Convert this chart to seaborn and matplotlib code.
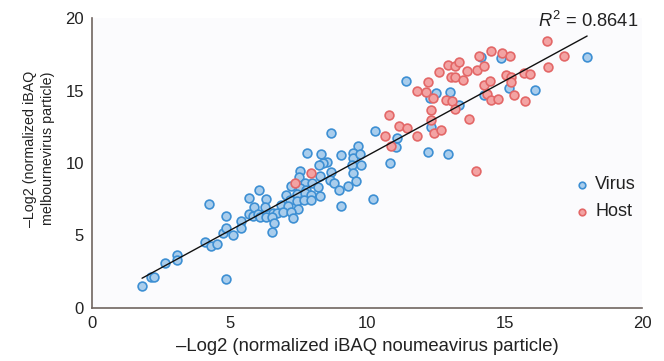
import numpy as np
import pandas as pd
import matplotlib
matplotlib.use("Agg")
import matplotlib.pyplot as plt
import seaborn as sns

# values (noumeavirus x, melbournevirus y)
virus_x = [1.79, 2.12, 2.24, 2.64, 3.08, 3.08, 4.25, 4.09, 4.31, 4.55,
           4.85, 4.76, 4.85, 4.88, 5.12, 5.40, 5.40, 5.69, 5.69, 5.88,
           5.85, 6.01, 6.05, 8.70, 9.67, 7.81, 8.33, 9.04, 9.48, 9.48,
           9.75, 8.55, 8.39, 8.25, 9.76, 9.43, 7.55, 8.70, 9.48, 7.52,
           8.27, 8.64, 9.61, 7.22, 7.73, 8.01, 8.79, 9.30, 7.55, 7.79,
           8.21, 8.96, 7.06, 7.43, 7.73, 7.97, 8.27, 6.33, 7.18, 7.43,
           7.70, 7.95, 6.85, 7.12, 6.27, 9.06, 7.48, 6.57, 6.73, 6.94,
           7.24, 6.09, 6.33, 6.54, 7.30, 6.61, 6.54, 10.21, 10.27, 10.82,
           11.10, 11.06, 11.40, 12.21, 12.94, 12.33, 12.49, 12.27, 13.00, 13.33,
           14.15, 14.25, 14.88, 15.15, 16.12, 17.99]
virus_y = [1.52, 2.16, 2.16, 3.08, 3.66, 3.31, 7.15, 4.53, 4.30, 4.39,
           1.98, 5.15, 5.54, 6.34, 5.03, 6.00, 5.54, 7.57, 6.48, 6.99,
           6.37, 6.46, 8.14, 12.09, 11.17, 10.67, 10.62, 10.55, 10.67, 10.32,
           10.60, 10.09, 9.98, 9.86, 9.86, 9.86, 9.47, 9.40, 9.33, 9.06,
           9.10, 8.83, 8.76, 8.43, 8.60, 8.60, 8.60, 8.41, 8.26, 8.14,
           8.37, 8.14, 7.79, 7.86, 7.91, 7.79, 7.72, 7.50, 7.45, 7.40,
           7.45, 7.45, 7.10, 7.03, 6.94, 7.03, 6.81, 6.57, 6.53, 6.64,
           6.64, 6.30, 6.30, 6.26, 6.23, 5.84, 5.26, 7.50, 12.21, 9.98,
           11.70, 11.08, 15.68, 10.78, 10.62, 12.50, 14.85, 14.50, 14.92, 14.00,
           17.33, 14.69, 17.26, 15.15, 15.03, 17.33]

host_x = [7.95, 7.39, 10.79, 10.64, 10.85, 11.16, 11.46, 11.83, 11.81, 12.21,
          12.15, 12.39, 12.31, 12.31, 12.42, 12.70, 12.60, 12.94, 13.18, 13.33,
          13.04, 13.18, 13.48, 13.63, 12.88, 13.10, 13.21, 13.70, 13.99, 14.24,
          14.05, 14.52, 14.24, 14.45, 14.37, 14.49, 14.76, 13.97, 16.55, 17.15,
          16.57, 14.90, 15.21, 15.06, 15.24, 15.22, 15.70, 15.91, 15.33, 15.73]
host_y = [9.29, 8.60, 13.31, 11.86, 11.17, 12.55, 12.43, 11.86, 14.99, 15.61,
          14.92, 14.50, 13.66, 12.97, 12.05, 12.28, 16.30, 16.76, 16.69, 16.99,
          15.95, 15.93, 15.72, 16.37, 14.34, 14.28, 13.70, 13.01, 16.41, 16.69,
          17.40, 17.72, 15.38, 15.66, 14.76, 14.34, 14.39, 9.45, 18.41, 17.40,
          16.64, 17.61, 17.38, 16.07, 15.95, 15.57, 16.19, 16.12, 14.69, 14.30]

# trend line as drawn in the figure (ends)
fit_x = [1.81, 18.0]
fit_y = [2.05, 18.76]
r_squared = "0.8641"
x_ticks = [0, 5, 10, 15, 20]
y_ticks = [0, 5, 10, 15, 20]

df = pd.DataFrame({
    "x": virus_x + host_x,
    "y": virus_y + host_y,
    "group": ["Virus"] * len(virus_x) + ["Host"] * len(host_x),
})

sns.set_style("white")
plt.rcParams["font.family"] = ["Liberation Sans", "DejaVu Sans"]
plt.rcParams["mathtext.fontset"] = "custom"
plt.rcParams["mathtext.rm"] = "Liberation Sans"
plt.rcParams["mathtext.it"] = "Liberation Sans:italic"

fig = plt.figure(figsize=(6.64, 3.61), dpi=100)
ax = fig.add_axes([0.139, 0.147, 0.828, 0.803])
ax.set_facecolor("#fbfbfd")

styles = {
    "Virus": dict(fc="#a9cdec", ec="#3d8fd3"),
    "Host": dict(fc="#f3a3a3", ec="#e36767"),
}
for grp in ["Virus", "Host"]:
    sub = df[df["group"] == grp]
    sns.scatterplot(data=sub, x="x", y="y", ax=ax, s=40,
                    color=styles[grp]["fc"], edgecolor=styles[grp]["ec"],
                    linewidth=1.2, label=grp, zorder=3)

sns.lineplot(x=fit_x, y=fit_y, ax=ax, color="#111111", lw=1.0, zorder=4)

ax.set_xlim(0, 20)
ax.set_ylim(0, 20)
ax.set_xticks(x_ticks)
ax.set_yticks(y_ticks)
ax.tick_params(length=0, labelsize=12, pad=6, colors="#222222")
for side in ["top", "right"]:
    ax.spines[side].set_visible(False)
for side in ["left", "bottom"]:
    ax.spines[side].set_color("#706560")
    ax.spines[side].set_linewidth(1.2)

ax.set_xlabel("\u2013Log2 (normalized iBAQ noumeavirus particle)",
              fontsize=13.3, color="#222222", labelpad=5)
ax.set_ylabel("\u2013Log2 (normalized iBAQ\nmelbournevirus particle)",
              fontsize=10.3, color="#222222", linespacing=1.45)
ax.yaxis.set_label_coords(-0.067, 0.55)

ax.text(0.993, 0.969, "$R^2$ = " + r_squared, transform=ax.transAxes,
        ha="right", va="baseline", fontsize=13.2, color="#222222")

leg = ax.legend(loc="center left", bbox_to_anchor=(0.862, 0.378), frameon=False,
                fontsize=13, handletextpad=0.2, handlelength=1.0,
                markerscale=0.75, labelspacing=0.55, borderaxespad=0)
for t in leg.get_texts():
    t.set_color("#222222")

fig.savefig("out.png", dpi=100)
